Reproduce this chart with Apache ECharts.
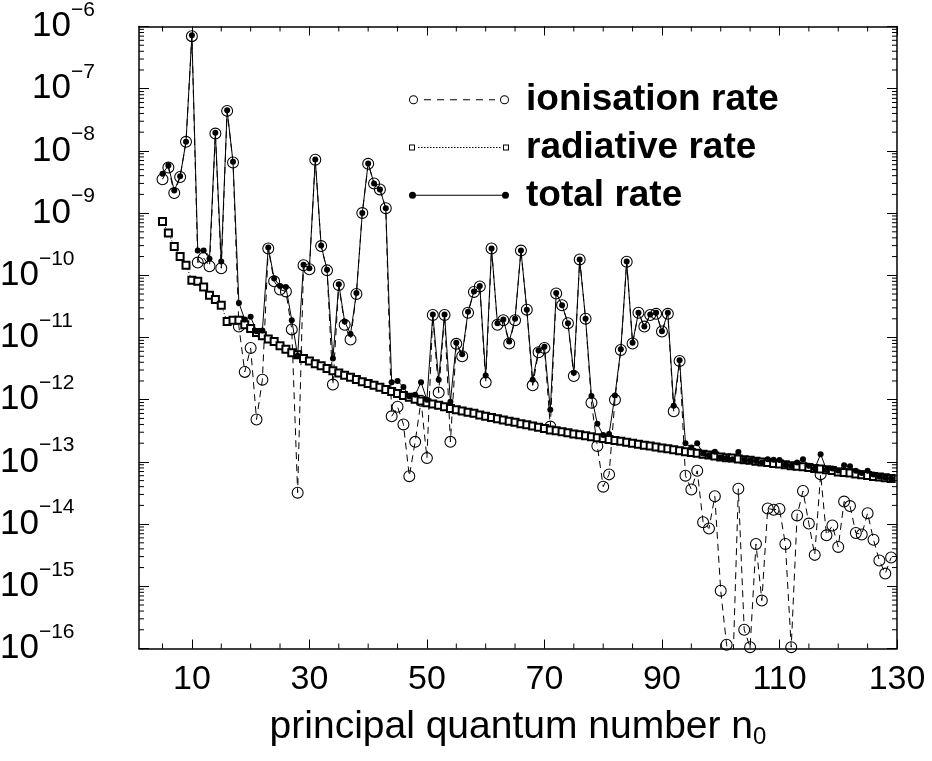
<!DOCTYPE html>
<html lang="en">
<head>
<meta charset="UTF-8">
<title>rates vs n0</title>
</head>
<body style="margin:0">
<div id="main" style="width:932px;height:761px"></div>
<script src="https://cdn.jsdelivr.net/npm/echarts@6/dist/echarts.min.js"></script>
<script>
// principal quantum number n0
var nValues = [5,6,7,8,9,10,11,12,13,14,15,16,17,18,19,20,21,22,23,24,25,26,27,28,29,30,31,32,33,34,
  35,36,37,38,39,40,41,42,43,44,45,46,47,48,49,50,51,52,53,54,55,56,57,58,59,60,61,62,63,64,
  65,66,67,68,69,70,71,72,73,74,75,76,77,78,79,80,81,82,83,84,85,86,87,88,89,90,91,92,93,94,
  95,96,97,98,99,100,101,102,103,104,105,106,107,108,109,110,111,112,113,114,115,116,117,118,119,120,
  121,122,123,124,125,126,127,128,129];

var ionRate = [
  3.5e-9, 5.4e-9, 2.1e-9, 3.8e-9, 1.4e-8, 7.0e-7, 1.6e-10, 1.9e-10, 1.4e-10, 1.9e-8,
  1.3e-10, 4.4e-8, 6.5e-9, 1.5e-11, 2.8e-12, 6.8e-12, 4.8e-13, 2.1e-12, 2.7e-10, 8.0e-11,
  5.9e-11, 5.5e-11, 1.35e-11, 3.2e-14, 1.45e-10, 1.25e-10, 7.2e-9, 2.95e-10, 1.2e-10, 1.75e-12,
  7.0e-11, 1.6e-11, 9.3e-12, 5.0e-11, 1.0e-9, 6.2e-9, 3.0e-9, 2.4e-9, 1.2e-9, 5.4e-13,
  7.7e-13, 4.0e-13, 5.9e-14, 2.1e-13, 9.6e-13, 1.15e-13, 2.3e-11, 1.3e-12, 2.3e-11, 2.1e-13,
  7.9e-12, 5.0e-12, 2.5e-11, 5.4e-11, 6.6e-11, 1.9e-12, 2.7e-10, 1.6e-11, 1.9e-11, 8.0e-12,
  1.9e-11, 2.5e-10, 2.8e-11, 1.7e-12, 5.8e-12, 6.8e-12, 3.7e-13, 5.1e-11, 3.3e-11, 1.7e-11,
  2.4e-12, 1.8e-10, 2.0e-11, 8.9e-13, 1.8e-13, 4.0e-14, 6.3e-14, 1.0e-12, 6.3e-12, 1.65e-10,
  8.0e-12, 2.5e-11, 1.5e-11, 2.3e-11, 2.4e-11, 1.25e-11, 2.4e-11, 6.5e-13, 4.2e-12, 6.0e-14,
  3.6e-14, 7.2e-14, 1.07e-14, 8.5e-15, 2.8e-14, 8.5e-16, 1.15e-16, 3.0e-17, 3.7e-14, 2.0e-16,
  1.05e-16, 4.8e-15, 5.9e-16, 1.78e-14, 1.7e-14, 1.75e-14, 4.8e-15, 1.05e-16, 1.38e-14, 3.4e-14,
  1.02e-14, 3.2e-15, 6.3e-14, 6.6e-15, 9.5e-15, 4.3e-15, 2.3e-14, 1.95e-14, 7.2e-15, 6.8e-15,
  1.5e-14, 5.6e-15, 2.6e-15, 1.6e-15, 2.9e-15
];

var radRate = [
  7.3e-10, 4.8e-10, 2.9e-10, 2.0e-10, 1.45e-10, 8.3e-11, 8.0e-11, 6.5e-11, 4.8e-11, 4.1e-11,
  3.3e-11, 1.8e-11, 1.9e-11, 1.9e-11, 1.6e-11, 1.4e-11, 1.2e-11, 1.07e-11, 9.5e-12, 8.6e-12,
  7.4e-12, 6.5e-12, 5.7e-12, 5.3e-12, 4.6e-12, 4.2e-12, 3.8e-12, 3.5e-12, 3.16e-12, 2.92e-12,
  2.69e-12, 2.48e-12, 2.29e-12, 2.11e-12, 1.95e-12, 1.82e-12, 1.70e-12, 1.58e-12, 1.46e-12, 1.35e-12,
  1.26e-12, 1.17e-12, 1.10e-12, 1.02e-12, 9.55e-13, 8.91e-13, 8.51e-13, 8.13e-13, 7.67e-13, 7.24e-13,
  6.92e-13, 6.61e-13, 6.31e-13, 6.03e-13, 5.69e-13, 5.43e-13, 5.19e-13, 4.95e-13, 4.73e-13, 4.52e-13,
  4.32e-13, 4.12e-13, 3.94e-13, 3.76e-13, 3.59e-13, 3.43e-13, 3.27e-13, 3.16e-13, 3.05e-13, 2.95e-13,
  2.82e-13, 2.72e-13, 2.63e-13, 2.54e-13, 2.45e-13, 2.37e-13, 2.29e-13, 2.21e-13, 2.14e-13, 2.07e-13,
  2.00e-13, 1.93e-13, 1.86e-13, 1.80e-13, 1.74e-13, 1.68e-13, 1.62e-13, 1.57e-13, 1.51e-13, 1.46e-13,
  1.41e-13, 1.38e-13, 1.33e-13, 1.29e-13, 1.24e-13, 1.20e-13, 1.17e-13, 1.15e-13, 1.11e-13, 1.08e-13,
  1.06e-13, 1.02e-13, 1.00e-13, 9.77e-14, 9.44e-14, 9.23e-14, 9.02e-14, 8.71e-14, 8.51e-14, 8.32e-14,
  8.13e-14, 7.85e-14, 7.67e-14, 7.50e-14, 7.24e-14, 6.9e-14, 6.75e-14, 6.6e-14, 6.4e-14, 6.2e-14,
  6.05e-14, 5.85e-14, 5.7e-14, 5.55e-14, 5.4e-14
];

var totRate = [
  4.3e-9, 5.8e-9, 2.3e-9, 3.9e-9, 1.4e-8, 7.2e-7, 2.5e-10, 2.5e-10, 1.85e-10, 1.95e-8,
  1.66e-10, 4.5e-8, 6.7e-9, 3.6e-11, 1.95e-11, 2.15e-11, 1.26e-11, 1.3e-11, 2.8e-10, 8.9e-11,
  6.7e-11, 6.5e-11, 1.9e-11, 5.1e-12, 1.48e-10, 1.3e-10, 7.3e-9, 3.0e-10, 1.23e-10, 4.6e-12,
  7.2e-11, 1.8e-11, 1.14e-11, 5.2e-11, 1.0e-9, 6.3e-9, 3.0e-9, 2.4e-9, 1.2e-9, 1.9e-12,
  2.0e-12, 1.6e-12, 1.14e-12, 1.2e-12, 1.9e-12, 1.0e-12, 2.35e-11, 2.1e-12, 2.35e-11, 9.3e-13,
  8.2e-12, 5.4e-12, 2.6e-11, 5.5e-11, 6.7e-11, 2.45e-12, 2.7e-10, 1.7e-11, 1.95e-11, 8.6e-12,
  2.0e-11, 2.5e-10, 2.8e-11, 2.1e-12, 6.2e-12, 7.1e-12, 6.9e-13, 5.2e-11, 3.3e-11, 1.7e-11,
  2.7e-12, 1.8e-10, 2.0e-11, 1.15e-12, 4.1e-13, 2.7e-13, 2.8e-13, 1.17e-12, 6.5e-12, 1.66e-10,
  8.2e-12, 2.5e-11, 1.5e-11, 2.35e-11, 2.5e-11, 1.26e-11, 2.5e-11, 8.0e-13, 4.3e-12, 2.0e-13,
  1.7e-13, 2.0e-13, 1.36e-13, 1.28e-13, 1.45e-13, 1.18e-13, 1.15e-13, 1.1e-13, 1.44e-13, 1.07e-13,
  1.05e-13, 1.03e-13, 9.8e-14, 1.1e-13, 1.08e-13, 1.07e-13, 9.0e-14, 8.7e-14, 9.8e-14, 1.1e-13,
  8.7e-14, 7.8e-14, 1.33e-13, 7.5e-14, 7.8e-14, 7.3e-14, 8.8e-14, 8.5e-14, 7.2e-14, 6.6e-14,
  7.2e-14, 6.3e-14, 5.8e-14, 5.6e-14, 5.4e-14
];

var xLabelTicks = [10, 30, 50, 70, 90, 110, 130];
var xMinorTicks = [5,15,20,25,35,40,45,55,60,65,75,80,85,95,100,105,115,120,125];
var xMin = 1, xMax = 130;
var yMin = 1e-16, yMax = 1e-6;

var FONT = 'Liberation Sans, Arial, Helvetica, sans-serif';

function pairs(vals) {
  return nValues.map(function (n, i) { return [n, vals[i]]; });
}

// log minor ticks 2..9 in every decade (axis decoration only)
var yMinor = [];
for (var e = -16; e < -6; e++) {
  for (var m = 2; m <= 9; m++) yMinor.push([xMin, m * Math.pow(10, e)]);
}

// ring path used for the open circles
function ring(cx, cy, ro, ri) {
  return 'M' + (cx - ro) + ',' + cy + ' A' + ro + ',' + ro + ' 0 1,1 ' + (cx + ro) + ',' + cy +
    ' A' + ro + ',' + ro + ' 0 1,1 ' + (cx - ro) + ',' + cy + ' Z ' +
    'M' + (cx - ri) + ',' + cy + ' A' + ri + ',' + ri + ' 0 1,0 ' + (cx + ri) + ',' + cy +
    ' A' + ri + ',' + ri + ' 0 1,0 ' + (cx - ri) + ',' + cy + ' Z ';
}
function dot(cx, cy, r) {
  return 'M' + (cx - r) + ',' + cy + ' A' + r + ',' + r + ' 0 1,1 ' + (cx + r) + ',' + cy +
    ' A' + r + ',' + r + ' 0 1,1 ' + (cx - r) + ',' + cy + ' Z ';
}
function box(x, y, s, t) {
  return 'M' + x + ',' + y + ' h' + s + ' v' + s + ' h' + (-s) + ' Z ' +
    'M' + (x + t) + ',' + (y + t) + ' v' + (s - 2 * t) + ' h' + (s - 2 * t) + ' v' + (-(s - 2 * t)) + ' Z ';
}
function dashes(x0, x1, len, gap, y, w) {
  var p = '';
  for (var x = x0; x < x1; x += len + gap) {
    var l = Math.min(len, x1 - x);
    p += 'M' + x + ',' + (y - w / 2) + ' h' + l + ' v' + w + ' h' + (-l) + ' Z ';
  }
  return p;
}

var ionIcon = 'path://' + ring(4.5, 4.5, 4.5, 3.5) + dashes(15, 86, 7, 6, 4.5, 1) + ring(95.5, 4.5, 4.5, 3.5);
var radIcon = 'path://' + box(0, 1, 6, 1) + dashes(9, 92, 1.5, 1.5, 4, 0.9) + box(94, 1, 6, 1);
var totIcon = 'path://' + dot(3.5, 3.5, 3.5) + 'M6,3 h88 v1 h-88 Z ' + dot(96.5, 3.5, 3.5);

var circleSymbol = 'path://' + ring(50, 50, 50, 41);

var myChart = echarts.init(document.getElementById('main'));

var yAxisBase = {
  type: 'log', logBase: 10, min: yMin, max: yMax, interval: 1,
  splitLine: { show: false },
  axisLine: { lineStyle: { color: '#000', width: 1.5 } },
  axisTick: { inside: true, length: 10, lineStyle: { color: '#000', width: 1 } }
};

var option = {
  backgroundColor: '#fff',
  animation: false,
  grid: { left: 139, right: 35, top: 26.5, bottom: 112.5, outerBoundsMode: 'none', containLabel: false },
  legend: {
    orient: 'vertical',
    left: 404,
    top: 74.7,
    itemWidth: 100,
    itemHeight: 12,
    itemGap: 7.8,
    symbolKeepAspect: true,
    itemStyle: { color: '#000', borderWidth: 0 },
    textStyle: {
      fontFamily: FONT, fontSize: 37, fontWeight: 'bold', color: '#000',
      lineHeight: 40, padding: [0, 0, 0, 12]
    },
    data: [
      { name: 'ionisation rate', icon: ionIcon },
      { name: 'radiative rate', icon: radIcon },
      { name: 'total rate', icon: totIcon }
    ]
  },
  xAxis: [{
    type: 'value', position: 'bottom', min: xMin, max: xMax,
    splitLine: { show: false },
    axisLine: { lineStyle: { color: '#000', width: 1.5 } },
    axisTick: { inside: true, length: 9, customValues: xLabelTicks, lineStyle: { color: '#000', width: 1 } },
    axisLabel: {
      customValues: xLabelTicks, margin: 14, color: '#000',
      fontFamily: FONT, fontSize: 34
    },
    name: '{a|principal quantum number n}{sub|0}',
    nameLocation: 'middle',
    nameGap: 57,
    nameTextStyle: {
      rich: {
        a: { fontFamily: FONT, fontSize: 39, color: '#000', lineHeight: 44 },
        sub: { fontFamily: FONT, fontSize: 24, color: '#000', lineHeight: 24, verticalAlign: 'bottom' }
      }
    }
  }, {
    type: 'value', position: 'top', min: xMin, max: xMax,
    splitLine: { show: false },
    axisLine: { lineStyle: { color: '#000', width: 1.5 } },
    axisTick: { inside: true, length: 9, customValues: xLabelTicks, lineStyle: { color: '#000', width: 1 } },
    axisLabel: { show: false }
  }],
  yAxis: [echarts.util.merge({
    position: 'left',
    axisLabel: {
      margin: 139,
      align: 'left',
      hideOverlap: false,
      showMinLabel: true,
      showMaxLabel: true,
      formatter: function (v) {
        var e = Math.abs(Math.round(Math.log(v) / Math.LN10));
        var lead = e < 10 ? '{p| }' : '';
        return lead + '{b|10}{s|\u2212' + e + '}';
      },
      rich: {
        p: { width: 32, fontSize: 10, lineHeight: 54 },
        b: { fontFamily: FONT, fontSize: 35, color: '#000', lineHeight: 54 },
        s: { fontFamily: FONT, fontSize: 21, color: '#000', lineHeight: 20, verticalAlign: 'top' }
      }
    }
  }, yAxisBase), echarts.util.merge({
    position: 'right',
    axisLabel: { show: false }
  }, yAxisBase)],
  series: [{
    name: 'ionisation rate',
    type: 'line',
    data: pairs(ionRate),
    symbol: circleSymbol,
    symbolSize: 12,
    itemStyle: { color: '#000' },
    lineStyle: { color: '#000', width: 1, type: [7, 5] },
    z: 2
  }, {
    name: 'radiative rate',
    type: 'line',
    data: pairs(radRate),
    symbol: 'emptyRect',
    symbolSize: 7,
    itemStyle: { color: '#000', borderWidth: 1 },
    lineStyle: { color: '#000', width: 1, type: [1, 2] },
    z: 3
  }, {
    name: 'total rate',
    type: 'line',
    data: pairs(totRate),
    symbol: 'circle',
    symbolSize: 6,
    itemStyle: { color: '#000' },
    lineStyle: { color: '#000', width: 1 },
    z: 4
  }, {
    // minor ticks of the log axis (left and right frame sides)
    type: 'custom',
    silent: true,
    clip: false,
    data: yMinor,
    renderItem: function (params, api) {
      var p = api.coord([xMin, api.value(1)]);
      var q = api.coord([xMax, api.value(1)]);
      return {
        type: 'group',
        children: [
          { type: 'line', shape: { x1: p[0], y1: p[1], x2: p[0] + 5, y2: p[1] }, style: { stroke: '#000', lineWidth: 1 } },
          { type: 'line', shape: { x1: q[0], y1: q[1], x2: q[0] - 5, y2: q[1] }, style: { stroke: '#000', lineWidth: 1 } }
        ]
      };
    },
    z: 5
  }, {
    // minor ticks of the n axis (bottom and top frame sides)
    type: 'custom',
    silent: true,
    clip: false,
    data: xMinorTicks.map(function (n) { return [n, yMin]; }),
    renderItem: function (params, api) {
      var p = api.coord([api.value(0), yMin]);
      var q = api.coord([api.value(0), yMax]);
      return {
        type: 'group',
        children: [
          { type: 'line', shape: { x1: p[0], y1: p[1], x2: p[0], y2: p[1] - 5 }, style: { stroke: '#000', lineWidth: 1 } },
          { type: 'line', shape: { x1: q[0], y1: q[1], x2: q[0], y2: q[1] + 5 }, style: { stroke: '#000', lineWidth: 1 } }
        ]
      };
    },
    z: 5
  }]
};

myChart.setOption(option);
</script>
</body>
</html>
